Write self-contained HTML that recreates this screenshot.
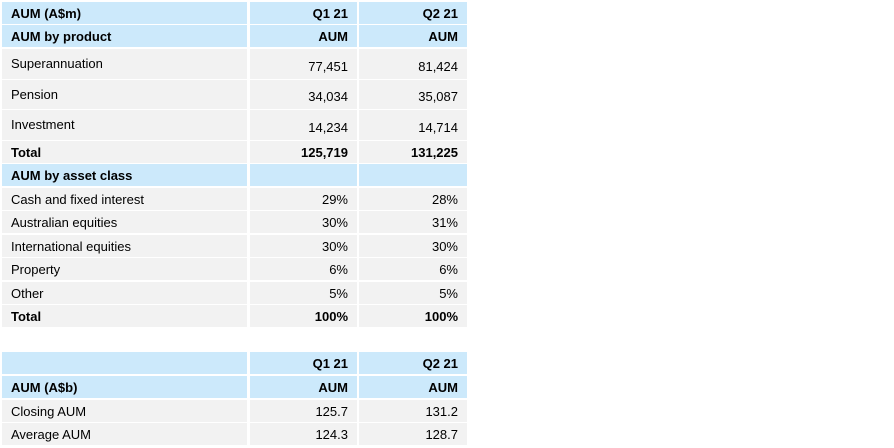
<!DOCTYPE html>
<html><head><meta charset="utf-8"><style>
body{margin:0;width:894px;height:448px;background:#fff;position:relative;font-family:"Liberation Sans",Arial,sans-serif;font-size:13px;color:#000;overflow:hidden}
.c{position:absolute;box-sizing:border-box;padding:0 9px;display:flex;align-items:center;white-space:nowrap}
.b{background:#cce9fb}.g{background:#f2f2f2}
.r{justify-content:flex-end}
.bold{font-weight:bold}
.tall{align-items:flex-start;padding-top:7px}
.tallr{align-items:flex-end;padding-bottom:5px}
</style></head><body>
<div id="t"></div>
<script>
const rows=[
 ["AUM  (A$m)","Q1 21","Q2 21",2,22,"b",1],
 ["AUM by product","AUM","AUM",25,22,"b",1],
 ["Superannuation","77,451","81,424",49,30,"g",0,1],
 ["Pension","34,034","35,087",80,29,"g",0,1],
 ["Investment","14,234","14,714",110,30,"g",0,1],
 ["Total","125,719","131,225",141,22,"g",1],
 ["AUM by asset class","","",164,22,"b",1],
 ["Cash and fixed interest","29%","28%",188,22,"g",0],
 ["Australian equities","30%","31%",211,22,"g",0],
 ["International equities","30%","30%",235,22,"g",0],
 ["Property","6%","6%",258,22,"g",0],
 ["Other","5%","5%",282,22,"g",0],
 ["Total","100%","100%",305,22,"g",1],
 ["","Q1 21","Q2 21",352,22,"b",1],
 ["AUM (A$b)","AUM","AUM",376,22,"b",1],
 ["Closing AUM","125.7","131.2",400,22,"g",0],
 ["Average AUM","124.3","128.7",423,22,"g",0]
];
const cols=[[2,245],[250,107],[359,108]];
const t=document.getElementById('t');
rows.forEach((r,i)=>{
 for(let j=0;j<3;j++){
  const d=document.createElement('div');
  
  
  let cls='c '+r[5]+(r[6]?' bold':'')+(j>0?' r':'');
  if(r[7]) cls+= j==0?' tall':' tallr';
  d.className=cls;
  d.style.left=cols[j][0]+'px';d.style.width=cols[j][1]+'px';
  d.style.top=r[3]+'px';d.style.height=r[4]+'px';
  d.textContent=[r[0],r[1],r[2]][j];
  t.appendChild(d);
 }
});
</script>
</body></html>
